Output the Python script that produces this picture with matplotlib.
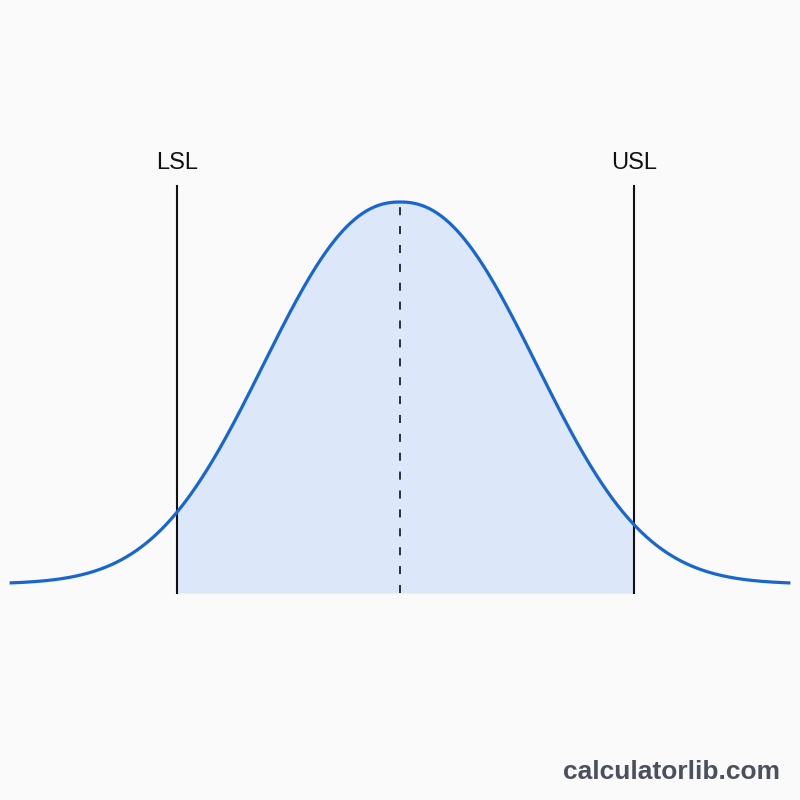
import numpy as np
import matplotlib
matplotlib.use('Agg')
import matplotlib.pyplot as plt

# process parameters (x in units of 122 px, centre = 0)
mean = 0.0
scale = 1.455      # width of the bell
shape = 2.25       # slightly flatter top than a pure gaussian
lsl = -1.83
usl = 1.918
labels = ['LSL', 'USL']
x_range = (-3.20, 3.20)

plt.rcParams['font.family'] = ['Liberation Sans', 'DejaVu Sans']


def bell(v):
    return np.exp(-np.abs((v - mean) / scale) ** shape)


x = np.linspace(x_range[0], x_range[1], 800)
y = bell(x)

fig = plt.figure(figsize=(8, 8), dpi=100)
fig.patch.set_facecolor('#fafafa')
ax = fig.add_axes([0, 0, 1, 1])
ax.set_facecolor('#fafafa')
ax.set_xlim(-400 / 122, 400 / 122)
ax.set_ylim(-216 / 382, 584 / 382)
ax.axis('off')

base = -9 / 382
mask = (x >= lsl) & (x <= usl)
xf = np.concatenate([[lsl], x[mask], [usl]])
ax.fill_between(xf, bell(xf), base, color='#dce8fa', lw=0, zorder=1)

ax.plot(x, y, color='#1766d1', lw=2.3, zorder=3, solid_capstyle='butt')

top = (584 - 186) / 382
for xv, lab in zip([lsl, usl], labels):
    ax.plot([xv, xv], [base, top], color='#111111', lw=1.5, zorder=2)
    ax.text(xv, (584 - 163) / 382, lab, ha='center', va='center',
            fontsize=17, color='#111111')

lw = 1.2
ax.plot([mean, mean], [base, 1.0], color='#111111', lw=lw, zorder=2,
        dashes=(5.8 / lw, 7.8 / lw))

fig.text(671 / 800, 1 - 772 / 800, 'calculatorlib.com', ha='center', va='center',
         fontsize=19, fontweight='bold', color='#4a505c')

plt.savefig('out.png', dpi=100, facecolor=fig.get_facecolor())
